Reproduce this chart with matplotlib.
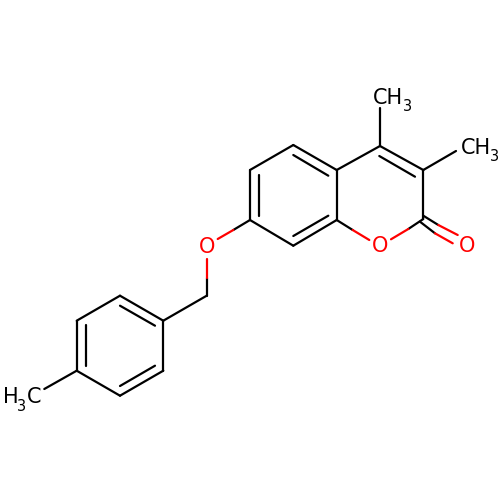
import matplotlib
matplotlib.use("Agg")
import matplotlib.pyplot as plt

# Skeleton positions
black_bonds = [
    [(380, 146), (423.3, 170)], [(380, 146), (336.7, 170)], [(380, 146), (380, 108)],
    [(423.3, 170), (456, 151)], [(423.3, 170), (423.3, 219)],
    [(336.7, 170), (336.7, 220)], [(336.7, 170), (293.3, 145)],
    [(293.3, 145), (250, 170)], [(250, 170), (250, 220)], [(250, 220), (293.3, 245.7)],
    [(293.3, 245.7), (336.7, 220)],
    [(336.7, 220), (352.7, 230)], [(423.3, 219), (408.3, 229)], [(250, 220), (233.3, 230)],
    [(423.3, 215.7), (438.3, 225)], [(420, 221.7), (435, 233.3)],
    [(206.7, 277.7), (206.7, 295.7)], [(206.7, 295.7), (163.3, 320.7)],
    [(163.3, 320.7), (120, 295.7)], [(120, 295.7), (76.7, 320.7)],
    [(76.7, 320.7), (76.7, 370.7)], [(76.7, 370.7), (120, 395.7)],
    [(120, 395.7), (163.3, 370.7)], [(163.3, 370.7), (163.3, 320.7)],
    [(76.7, 370.7), (44.3, 389)],
    # inner lines of double bonds
    [(379.3, 156), (415, 176.7)], [(293.3, 155), (328.3, 175.7)],
    [(259, 175), (259, 216)], [(293.3, 236), (328.3, 215.7)],
    [(120, 305.7), (155, 325.7)], [(86, 325), (86, 366)], [(120, 386), (155, 365.7)],
]
red_bonds = [
    [(352.7, 230), (369.3, 240)], [(408.3, 229), (391, 239.3)],
    [(233.3, 230), (217.7, 239)], [(206.7, 259), (206.7, 277.7)],
    [(438.3, 225), (457.7, 235)], [(435, 233.3), (452.7, 243.3)],
]
oxygen_labels = [(380, 246), (466.7, 246), (206.7, 246.7)]
main_labels = [(373, 104, "CH"), (460.7, 154, "CH"), (27, 403, "C"), (3, 403, "H")]
sub_labels = [(403, 111, "3"), (490, 161, "3"), (17, 410.7, "3")]

fig = plt.figure(figsize=(5, 5), dpi=100, facecolor="white")
ax = fig.add_axes([0, 0, 1, 1])
ax.set_xlim(0, 500)
ax.set_ylim(500, 0)
ax.axis("off")

for bond in black_bonds:
    ax.plot(*zip(*bond), color="black", lw=1.6, solid_capstyle="round")
for bond in red_bonds:
    ax.plot(*zip(*bond), color="#ff0000", lw=1.6, solid_capstyle="round")
for x, y in oxygen_labels:
    ax.text(x, y, "O", color="#ff0000", fontsize=15, ha="center", va="center", family="DejaVu Sans")
for x, y, s in main_labels:
    ax.text(x, y, s, color="black", fontsize=15, ha="left", va="baseline", family="DejaVu Sans")
for x, y, s in sub_labels:
    ax.text(x, y, s, color="black", fontsize=10.5, ha="left", va="baseline", family="DejaVu Sans")

fig.savefig("out.png", dpi=100, facecolor="white")
